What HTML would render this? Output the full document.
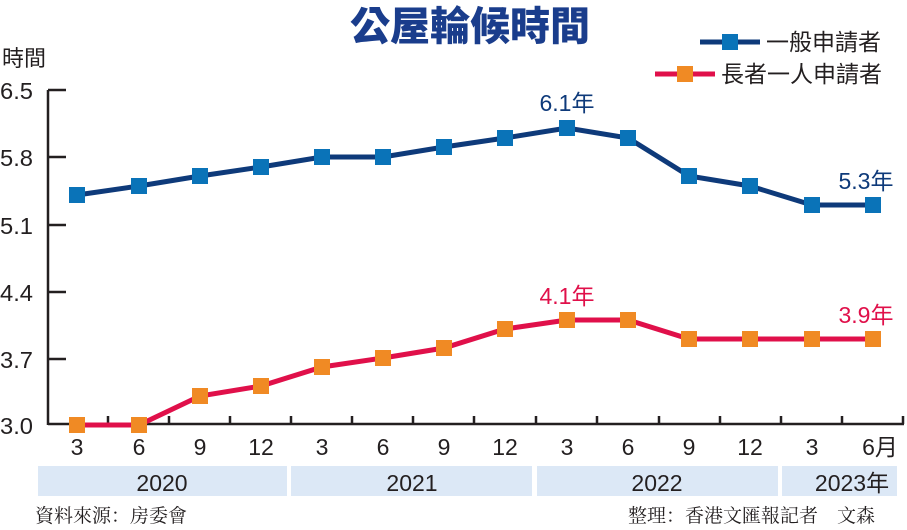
<!DOCTYPE html>
<html><head><meta charset="utf-8"><style>
body{margin:0;background:#fff;}
svg{display:block;font-family:"Liberation Sans","Noto Sans CJK TC",sans-serif;}
</style></head><body>
<svg width="907" height="530" viewBox="0 0 907 530" xmlns="http://www.w3.org/2000/svg">
<text x="470" y="40" text-anchor="middle" font-size="40" font-weight="900" fill="#1a3d8c" font-family="'Noto Sans CJK TC',sans-serif">公屋輪候時間</text>
<text x="2" y="66" font-size="22" fill="#231f20" font-family="'Noto Sans CJK TC',sans-serif">時間</text>
<g font-size="23" fill="#231f20" text-anchor="start">
<text x="0" y="99" textLength="33" lengthAdjust="spacingAndGlyphs">6.5</text><text x="0" y="166" textLength="33" lengthAdjust="spacingAndGlyphs">5.8</text><text x="0" y="234" textLength="33" lengthAdjust="spacingAndGlyphs">5.1</text>
<text x="0" y="301" textLength="33" lengthAdjust="spacingAndGlyphs">4.4</text><text x="0" y="368" textLength="33" lengthAdjust="spacingAndGlyphs">3.7</text><text x="0" y="434" textLength="33" lengthAdjust="spacingAndGlyphs">3.0</text>
</g>
<g stroke="#231f20" stroke-width="2.5" fill="none">
<line x1="48" y1="90" x2="48" y2="425"/>
<line x1="48" y1="90" x2="66" y2="90"/><line x1="48" y1="157" x2="66" y2="157"/>
<line x1="48" y1="225" x2="66" y2="225"/><line x1="48" y1="292" x2="66" y2="292"/>
<line x1="48" y1="359" x2="66" y2="359"/>
<line x1="48" y1="424" x2="904" y2="424"/>
<path d="M108 424v-8M169 424v-8M230 424v-8M291 424v-8M352 424v-8M413 424v-8M474 424v-8M536 424v-8M597 424v-8M659 424v-8M720 424v-8M781 424v-8M842 424v-8M903 424v-8"/>
</g>
<g font-size="23" fill="#231f20" text-anchor="middle">
<text x="77" y="455">3</text><text x="139" y="455">6</text><text x="200" y="455">9</text><text x="261" y="455">12</text>
<text x="322" y="455">3</text><text x="383" y="455">6</text><text x="444" y="455">9</text><text x="505" y="455">12</text>
<text x="567" y="455">3</text><text x="628" y="455">6</text><text x="689" y="455">9</text><text x="750" y="455">12</text>
<text x="812" y="455">3</text><text x="880" y="455">6月</text>
</g>
<g fill="#dce8f6">
<rect x="38" y="466" width="249" height="30"/><rect x="291" y="466" width="241" height="30"/>
<rect x="537" y="466" width="241" height="30"/><rect x="782" y="466" width="115" height="30"/>
</g>
<g font-size="23" fill="#231f20" text-anchor="middle">
<text x="162" y="491">2020</text><text x="412" y="491">2021</text><text x="657" y="491">2022</text><text x="852" y="491">2023年</text>
</g>
<g font-size="19" fill="#231f20" font-family="'Noto Serif CJK SC',serif">
<text x="35" y="522">資料來源：房委會</text>
<text x="628" y="522">整理：香港文匯報記者　文森</text>
</g>
<polyline fill="none" stroke="#0e3a7a" stroke-width="5" points="77,195 139,186 200,176 261,167 322,157 383,157 444,147 505,138 567,128 628,138 689,176 750,186 812,205 873,205"/>
<g fill="#0a73b8">
<rect x="69" y="187" width="16" height="16"/><rect x="131" y="178" width="16" height="16"/><rect x="192" y="168" width="16" height="16"/><rect x="253" y="159" width="16" height="16"/><rect x="314" y="149" width="16" height="16"/><rect x="375" y="149" width="16" height="16"/><rect x="436" y="139" width="16" height="16"/><rect x="497" y="130" width="16" height="16"/><rect x="559" y="120" width="16" height="16"/><rect x="620" y="130" width="16" height="16"/><rect x="681" y="168" width="16" height="16"/><rect x="742" y="178" width="16" height="16"/><rect x="804" y="197" width="16" height="16"/><rect x="865" y="197" width="16" height="16"/>
</g>
<polyline fill="none" stroke="#e0104a" stroke-width="5" points="77,425 139,425 200,396 261,386 322,367 383,358 444,348 505,329 567,320 628,320 689,339 750,339 812,339 873,339"/>
<g fill="#f08a24">
<rect x="69" y="417" width="16" height="16"/><rect x="131" y="417" width="16" height="16"/><rect x="192" y="388" width="16" height="16"/><rect x="253" y="378" width="16" height="16"/><rect x="314" y="359" width="16" height="16"/><rect x="375" y="350" width="16" height="16"/><rect x="436" y="340" width="16" height="16"/><rect x="497" y="321" width="16" height="16"/><rect x="559" y="312" width="16" height="16"/><rect x="620" y="312" width="16" height="16"/><rect x="681" y="331" width="16" height="16"/><rect x="742" y="331" width="16" height="16"/><rect x="804" y="331" width="16" height="16"/><rect x="865" y="331" width="16" height="16"/>
</g>
<g font-size="23" text-anchor="middle">
<text x="567" y="111" fill="#0e3a7a">6.1年</text>
<text x="866" y="189" fill="#0e3a7a">5.3年</text>
<text x="567" y="304" fill="#e0104a">4.1年</text>
<text x="866" y="323" fill="#e0104a">3.9年</text>
</g>
<line x1="700" y1="42" x2="760" y2="42" stroke="#0e3a7a" stroke-width="5"/>
<rect x="722" y="34" width="16" height="16" fill="#0a73b8"/>
<text x="766" y="50" font-size="23" fill="#231f20">一般申請者</text>
<line x1="655" y1="74" x2="715" y2="74" stroke="#e0104a" stroke-width="5"/>
<rect x="677" y="66" width="16" height="16" fill="#f08a24"/>
<text x="721" y="82" font-size="23" fill="#231f20">長者一人申請者</text>
</svg>
</body></html>
